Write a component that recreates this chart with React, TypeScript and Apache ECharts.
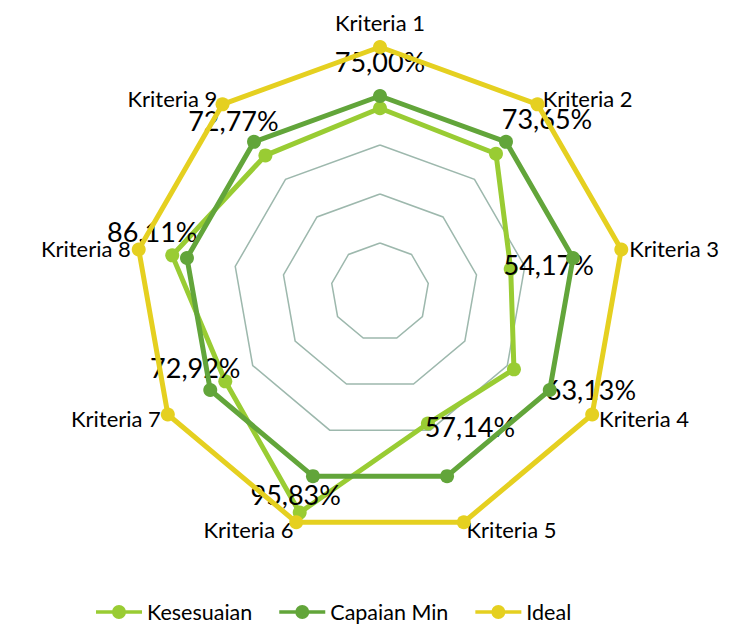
import React, { useEffect, useRef } from "react";
import * as echarts from "echarts";

const criteria = ["Kriteria 1", "Kriteria 2", "Kriteria 3", "Kriteria 4", "Kriteria 5", "Kriteria 6", "Kriteria 7", "Kriteria 8", "Kriteria 9"];
const kesesuaian = [75.0, 73.65, 54.17, 63.13, 57.14, 95.83, 72.92, 86.11, 72.77];
const capaianMin = [80, 80, 80, 80, 80, 80, 80, 80, 80];
const ideal = [100, 100, 100, 100, 100, 100, 100, 100, 100];
const seriesNames = ["Kesesuaian", "Capaian Min", "Ideal"];
const colors = ["#99CC33", "#62A53A", "#E5D020"];

// label offsets (pixels) relative to each Kesesuaian point, in criteria order
const labelOffsets = [
  [0, -47], [51, -35], [38, -4], [77, 20], [42, 3], [-4, -18], [-30, -14], [-20, -24], [-32, -35],
];

const fmt = (v: number) => v.toFixed(2).replace(".", ",") + "%";
const FONT = "Lato";

// ECharts radar runs counter-clockwise; reorder so criteria go clockwise
const order = [0, 8, 7, 6, 5, 4, 3, 2, 1];
const reorder = <T,>(arr: T[]) => order.map((i) => arr[i]);

const legendIcon =
  "path://M0,5h46v3.5h-46z M16,6.75a7,7 0 1,1 14,0a7,7 0 1,1 -14,0z";

export default function App() {
  const ref = useRef<HTMLDivElement>(null);
  useEffect(() => {
    if (!ref.current) return;
    const chart = echarts.init(ref.current, undefined, { renderer: "svg" });
    const labelTexts = kesesuaian.map(fmt);
    const mk = (i: number, vals: number[], withLabel: boolean) => ({
      type: "radar",
      name: seriesNames[i],
      symbol: "circle",
      symbolSize: 14,
      z: 2 + i,
      lineStyle: { width: 5, color: colors[i] },
      itemStyle: { color: colors[i] },
      label: withLabel
        ? {
            show: true,
            position: "inside",
            color: "#000",
            fontSize: 27,
            fontFamily: FONT,
            formatter: (p: any) => fmt(Number(p.value)),
          }
        : { show: false },
      labelLayout: withLabel
        ? (p: any) => {
            const idx = labelTexts.indexOf(p.text);
            if (idx < 0) return {};
            return { dx: labelOffsets[idx][0], dy: labelOffsets[idx][1] };
          }
        : undefined,
      data: [{ name: seriesNames[i], value: reorder(vals) }],
    });
    chart.setOption({
      animation: false,
      textStyle: { fontFamily: FONT },
      color: colors,
      legend: {
        bottom: 5,
        left: 91,
        data: seriesNames.map((n) => ({ name: n, icon: legendIcon })),
        itemWidth: 46,
        itemHeight: 14,
        itemGap: 27,
        textStyle: { fontSize: 21.5, color: "#000", fontFamily: FONT },
      },
      radar: {
        center: [380, 292],
        radius: 245,
        startAngle: 90,
        splitNumber: 5,
        shape: "polygon",
        indicator: reorder(criteria).map((c) => ({ name: c, min: 0, max: 100 })),
        axisName: {
          color: "#000",
          fontSize: 22,
          fontFamily: FONT,
          formatter: (n: string) => (n === criteria[0] ? "{top|" + n + "}" : n),
          rich: { top: { fontSize: 22, fontFamily: FONT, color: "#000", padding: [0, 0, 6, 0] } },
        },
        nameGap: 8,
        axisLine: { show: false },
        splitArea: { show: false },
        splitLine: { lineStyle: { color: "#9DB8AD", width: 1.5 } },
      },
      series: [
        mk(0, kesesuaian, true),
        mk(1, capaianMin, false),
        mk(2, ideal, false),
      ],
    });
    return () => chart.dispose();
  }, []);
  return <div ref={ref} style={{ position: "absolute", left: 0, top: 0, width: 746, height: 633 }} />;
}
